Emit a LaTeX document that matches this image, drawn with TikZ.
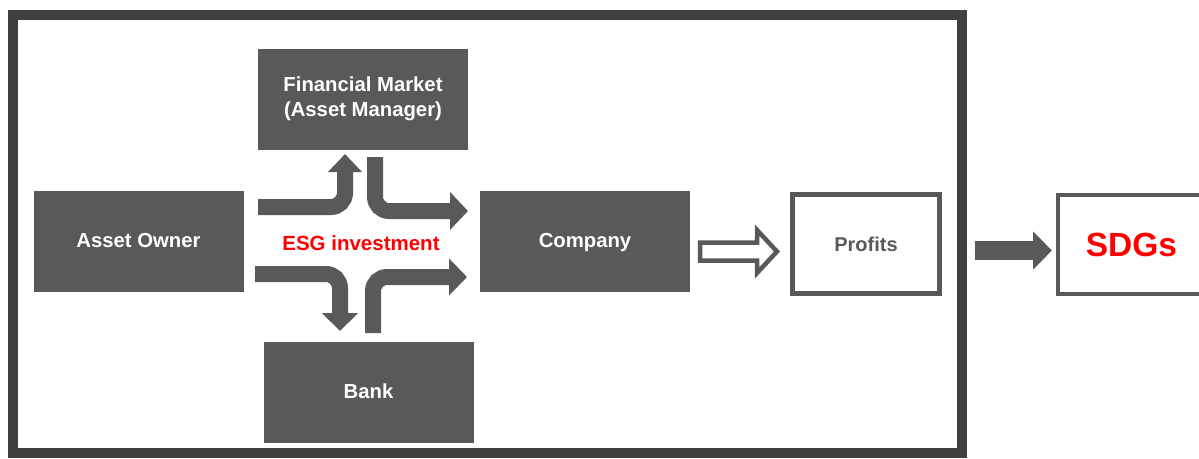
\documentclass[tikz,border=0pt]{standalone}
\usepackage{fontspec}
\setmainfont{Liberation Sans}
\usetikzlibrary{arrows.meta,calc}
\definecolor{boxgray}{HTML}{595959}
\definecolor{framegray}{HTML}{404040}
\definecolor{esgred}{HTML}{FF0000}
\begin{document}
\begin{tikzpicture}[x=1pt,y=-1pt,
  darkbox/.style={fill=boxgray,draw=none,minimum width=210pt,minimum height=101pt,
    text=white,font=\fontsize{20.3}{25}\selectfont\bfseries,align=center,inner sep=0pt},
  openbox/.style={draw=boxgray,line width=4.5pt,fill=white,minimum width=147pt,minimum height=99pt,inner sep=0pt},
  bentarrow/.style={draw=boxgray,line width=16pt,rounded corners=14pt,
    -{Triangle[width=#1,length=18pt]}},
  bentarrow/.default=35pt
]
\useasboundingbox (0,0) rectangle (1199,458);
\clip (0,0) rectangle (1199,458);
% frame
\draw[framegray,line width=10pt] (13,15) rectangle (962,453);
% boxes
\node[darkbox] (fm) at (363,99) {\rule{0pt}{4pt}Financial Market\\(Asset Manager)};
\node[darkbox,text depth=2pt] (ao) at (138.5,241.5) {Asset Owner};
\node[darkbox,text depth=2pt] (co) at (585,241.5) {Company};
\node[darkbox,text depth=2pt] (bk) at (368.5,392) {Bank};
\node[openbox,text=boxgray,font=\fontsize{20}{24}\selectfont\bfseries] (pr) at (866,244) {Profits};
\node[openbox,text=esgred,font=\fontsize{33.5}{38}\selectfont\bfseries] (sd) at (1131.5,244.5) {SDGs};
% ESG label
\node[text=esgred,font=\fontsize{20.5}{24}\selectfont\bfseries] (esg) at (361,243) {ESG investment};
% bent arrows
\coordinate (a1s) at (258,207);
\coordinate (a1c) at (345,207);
\coordinate (a1e) at (345,154);
\draw[bentarrow=33pt] (a1s) -- (a1c) -- (a1e);
\coordinate (a2s) at (375,157);
\coordinate (a2c) at (375,211);
\coordinate (a2e) at (468,211);
\draw[bentarrow=37pt] (a2s) -- (a2c) -- (a2e);
\coordinate (a3s) at (255,274);
\coordinate (a3c) at (340,274);
\coordinate (a3e) at (340,331);
\draw[bentarrow=35pt] (a3s) -- (a3c) -- (a3e);
\coordinate (a4s) at (373,333);
\coordinate (a4c) at (373,277);
\coordinate (a4e) at (467,277);
\draw[bentarrow=36pt] (a4s) -- (a4c) -- (a4e);
% hollow arrow Company -> Profits
\draw[boxgray,line width=4.5pt,fill=white,line join=miter]
  (700,242.5) -- (757,242.5) -- (757,230) -- (777,251.5) -- (757,273) -- (757,260.5) -- (700,260.5) -- cycle;
% solid arrow Profits -> SDGs
\coordinate (s1) at (975,250.5);
\coordinate (s2) at (1052,250.5);
\draw[boxgray,line width=19pt,-{Triangle[width=37pt,length=19pt]}] (s1) -- (s2);
\end{tikzpicture}
\end{document}
